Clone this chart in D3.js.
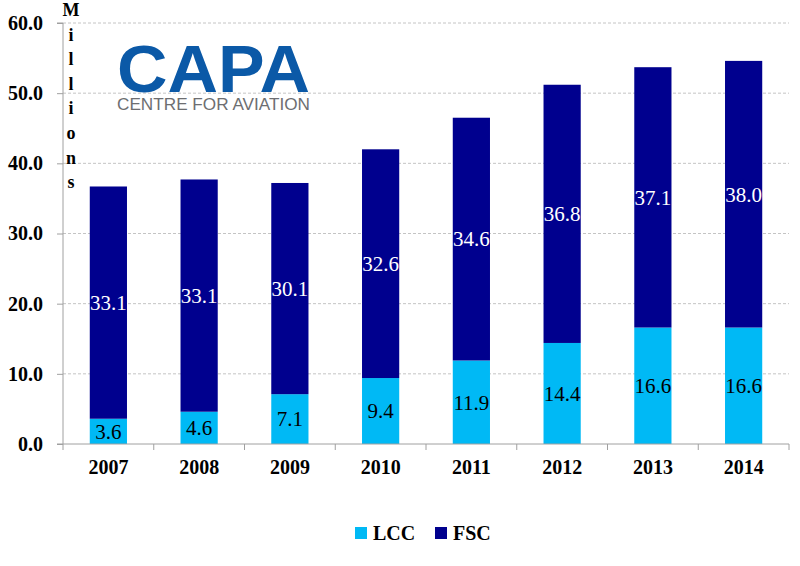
<!DOCTYPE html>
<html>
<head>
<meta charset="utf-8">
<script src="https://cdn.jsdelivr.net/npm/d3@7"></script>
<style>
  body { margin: 0; background: #fff; }
  svg { display: block; }
  .serif { font-family: "Liberation Serif", "DejaVu Serif", "Times New Roman", serif; }
  .sans { font-family: "Liberation Sans", Arial, sans-serif; }
</style>
</head>
<body>
<div id="chart"></div>
<script>
// Passenger capacity, millions, LCC vs FSC
const years = ["2007", "2008", "2009", "2010", "2011", "2012", "2013", "2014"];
const lccValues = [3.6, 4.6, 7.1, 9.4, 11.9, 14.4, 16.6, 16.6];
const fscValues = [33.1, 33.1, 30.1, 32.6, 34.6, 36.8, 37.1, 38.0];
const yTicks = [0, 10, 20, 30, 40, 50, 60];
const seriesNames = ["LCC", "FSC"];

const colors = { LCC: "#00B9F5", FSC: "#00008E" };

const W = 800, H = 566;
const margin = { top: 23, right: 11, bottom: 122, left: 63 };
const innerW = W - margin.left - margin.right;
const innerH = H - margin.top - margin.bottom;

const svg = d3.select("#chart").append("svg")
    .attr("width", W)
    .attr("height", H);

const g = svg.append("g")
    .attr("transform", `translate(${margin.left},${margin.top})`);

// Scales
const xCat = d3.scaleBand()
    .domain(years)
    .range([0, innerW])
    .padding(0);

const xBar = d3.scaleBand()
    .domain(years)
    .range([0, innerW])
    .paddingInner(0.59)
    .paddingOuter(0.295);

const y = d3.scaleLinear()
    .domain([0, 60])
    .range([innerH, 0]);

// Gridlines
g.append("g")
    .selectAll("line")
    .data(yTicks.filter(d => d > 0))
    .enter()
    .append("line")
    .attr("x1", 0)
    .attr("x2", innerW)
    .attr("y1", d => y(d))
    .attr("y2", d => y(d))
    .style("stroke", "#c4c4c4")
    .style("stroke-width", 1)
    .style("stroke-dasharray", "3,2");

// Stack data
const stackData = years.map((yr, i) => ({ year: yr, LCC: lccValues[i], FSC: fscValues[i] }));
const stack = d3.stack().keys(seriesNames)(stackData);

const layers = g.selectAll(".layer")
    .data(stack)
    .enter()
    .append("g")
    .attr("class", "layer")
    .style("fill", d => colors[d.key]);

layers.selectAll("rect")
    .data(d => d)
    .enter()
    .append("rect")
    .attr("x", d => xBar(d.data.year))
    .attr("width", xBar.bandwidth())
    .attr("y", d => y(d[1]))
    .attr("height", d => y(d[0]) - y(d[1]));

// Value labels
stack.forEach(layer => {
    g.append("g")
        .selectAll("text")
        .data(layer)
        .enter()
        .append("text")
        .attr("class", "serif")
        .attr("x", d => xBar(d.data.year) + xBar.bandwidth() / 2)
        .attr("y", d => (y(d[0]) + y(d[1])) / 2)
        .attr("dy", "0.35em")
        .attr("text-anchor", "middle")
        .attr("font-size", 21)
        .attr("fill", layer.key === "FSC" ? "#fff" : "#000")
        .text(d => d3.format(".1f")(d.data[layer.key]));
});

// Y axis
const yAxis = g.append("g")
    .call(d3.axisLeft(y).tickValues(yTicks).tickFormat(d3.format(".1f")).tickSize(6).tickPadding(14));
yAxis.attr("font-family", null).attr("font-size", null);
yAxis.select(".domain").style("stroke", "#a0a0a0").attr("d", `M-6,${y(60)}H0V${innerH}H-6`);
yAxis.selectAll(".tick line").style("stroke", "#a0a0a0");
yAxis.selectAll("text")
    .attr("class", "serif")
    .attr("font-size", 20)
    .attr("font-weight", "bold")
    .attr("fill", "#000");

// X axis: labels centred, ticks at category boundaries
const xAxis = g.append("g")
    .attr("transform", `translate(0,${innerH})`)
    .call(d3.axisBottom(xCat).tickSize(0).tickPadding(16));
xAxis.attr("font-family", null).attr("font-size", null);
xAxis.select(".domain").style("stroke", "#a0a0a0").attr("d", `M0,0H${innerW}`);
xAxis.selectAll("text")
    .attr("class", "serif")
    .attr("font-size", 20)
    .attr("font-weight", "bold")
    .attr("fill", "#000");

const boundaries = years.map(d => xCat(d)).concat([innerW]);
g.append("g")
    .selectAll("line")
    .data(boundaries)
    .enter()
    .append("line")
    .attr("x1", d => d)
    .attr("x2", d => d)
    .attr("y1", innerH)
    .attr("y2", innerH + 6)
    .style("stroke", "#a0a0a0");

// Vertical "Millions" label
const unitLetters = "Millions".split("");
svg.append("g")
    .selectAll("text")
    .data(unitLetters)
    .enter()
    .append("text")
    .attr("class", "serif")
    .attr("x", 71)
    .attr("y", (d, i) => 16 + i * 24.6)
    .attr("text-anchor", "middle")
    .attr("font-size", 18)
    .attr("font-weight", "bold")
    .attr("fill", "#000")
    .text(d => d);

// CAPA logo
svg.append("text")
    .attr("class", "sans")
    .attr("x", 117)
    .attr("y", 92)
    .attr("textLength", 193)
    .attr("lengthAdjust", "spacingAndGlyphs")
    .attr("font-size", 66)
    .attr("font-weight", "bold")
    .attr("fill", "#0B59A7")
    .text("CAPA");

svg.append("text")
    .attr("class", "sans")
    .attr("x", 117)
    .attr("y", 110)
    .attr("textLength", 193)
    .attr("lengthAdjust", "spacingAndGlyphs")
    .attr("font-size", 17)
    .attr("fill", "#6d6e71")
    .text("CENTRE FOR AVIATION");

// Legend
const legend = svg.append("g").attr("transform", "translate(355,527)");
const legendX = { LCC: 0, FSC: 80 };
const items = legend.selectAll("g")
    .data(seriesNames)
    .enter()
    .append("g")
    .attr("transform", d => `translate(${legendX[d]},0)`);
items.append("rect")
    .attr("width", 12)
    .attr("height", 12)
    .attr("fill", d => colors[d]);
items.append("text")
    .attr("class", "serif")
    .attr("x", 18)
    .attr("y", 6)
    .attr("dy", "0.35em")
    .attr("font-size", 20)
    .attr("font-weight", "bold")
    .attr("fill", "#000")
    .text(d => d);
</script>
</body>
</html>
